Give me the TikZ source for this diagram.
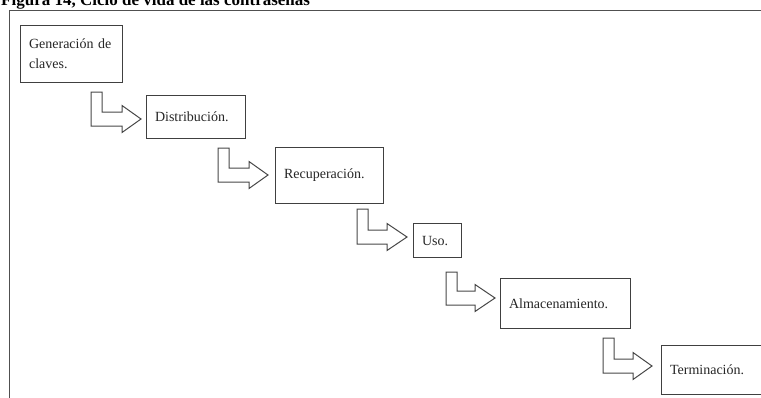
\documentclass[tikz,border=0pt]{standalone}
\usepackage{fontspec}
\setmainfont{Liberation Serif}
\definecolor{boxline}{HTML}{404040}
\definecolor{arrline}{HTML}{474747}
\definecolor{frameline}{HTML}{505050}
\tikzset{
  stagebox/.style={draw=boxline, line width=1.1pt, anchor=north west, inner xsep=8.5pt, inner ysep=0pt,
    align=left, font=\fontsize{14}{20}\selectfont, text=black!85},
  arrowshape/.style={draw=arrline, line width=1pt, fill=white, line join=miter},
}
\newcommand\bentarr[5]{%
  \draw[arrowshape] (#1,#2) -- (#1+11,#2) -- (#1+11,#3-7) -- (#4,#3-7) -- (#4,#3-13.5)
    -- (#5,#3) -- (#4,#3+13.5) -- (#4,#3+7) -- (#1,#3+7) -- cycle;}
\begin{document}
\begin{tikzpicture}[x=1pt,y=-1pt]
\useasboundingbox (0,0) rectangle (761,397);
\clip (0,0) rectangle (761,397);
\fill[white] (0,0) rectangle (761,397);
% title (cut at the top, as in the reference)
\node[anchor=base west, inner sep=0pt, font=\bfseries\fontsize{17}{20}\selectfont] (title) at (1,5.5)
  {Figura 14, Ciclo de vida de las contraseñas};
% outer frame
\draw[frameline, line width=1.5pt] (9.5,420) -- (9.5,10.5) -- (780,10.5);
% stage boxes
\node[stagebox, text width=85pt, minimum height=57pt] (gen) at (20,25) {Generación de\\claves.};
\node[stagebox, text width=82pt, minimum height=43pt] (dist) at (146,95) {Distribución.};
\node[stagebox, text width=91pt, minimum height=56pt] (rec) at (275,147) {Recuperación.};
\node[stagebox, text width=31pt, minimum height=34pt] (uso) at (413,223) {Uso.};
\node[stagebox, text width=113pt, minimum height=50pt] (alm) at (500,278) {Almacenamiento.};
\node[stagebox, text width=120pt, minimum height=49pt] (ter) at (661,345) {Terminación.};
% bent block arrows
\bentarr{91}{92}{119}{122}{141}
\bentarr{218}{148}{175}{249}{268}
\bentarr{357}{209}{237}{387}{407}
\bentarr{446}{272}{298}{475}{495}
\bentarr{603}{338}{366}{633}{652}
\end{tikzpicture}
\end{document}
